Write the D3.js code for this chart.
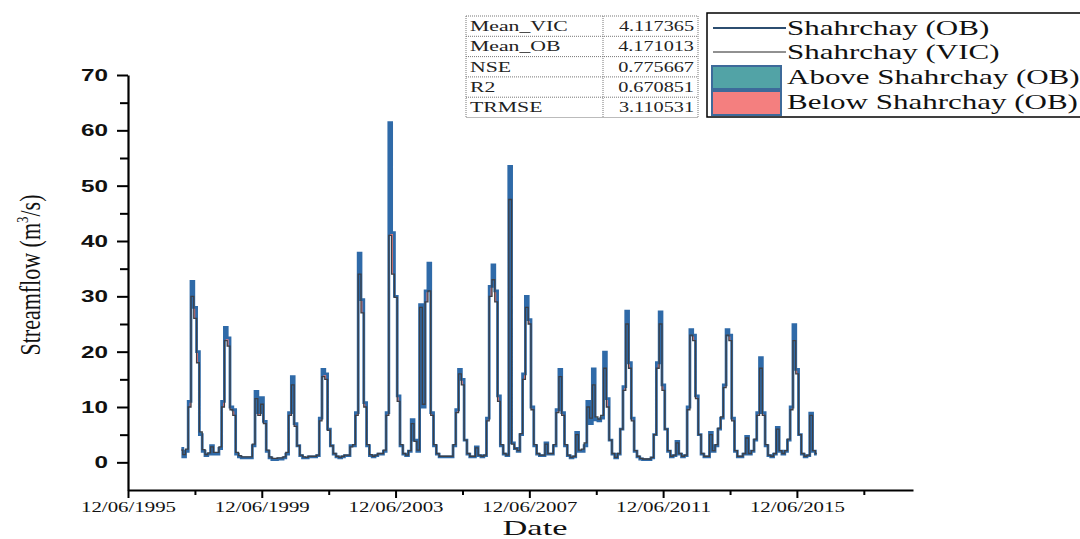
<!DOCTYPE html>
<html><head><meta charset="utf-8">
<script src="https://cdn.jsdelivr.net/npm/d3@7"></script>
<style>body{margin:0;background:#fff}svg{display:block}</style>
</head><body><svg id="c" width="1080" height="539"></svg>
<script>
// ---- data (monthly, Jan 1997 .. Jan 2016) ----
const startYear = 1997;
const obFlow = [
 2.5,1.0,2.0,11,32.7,28,20,5,2,1.2,1.5,3.0,
 1.5,1.5,2.5,11,24.4,22.5,10,9.5,1.5,1.0,0.8,0.8,
 0.8,0.8,3,12.8,9,11.7,7.4,2,0.8,0.5,0.5,0.6,
 0.6,0.8,1.5,9,15.5,7,3,1.2,0.8,0.8,1.0,1.0,
 1.0,1.2,8,16.8,16,6,3,1.5,1.0,0.8,1.0,1.2,
 1.2,3,3,9,37.8,29.4,10.8,3,1.2,1.0,1.2,1.5,
 1.5,2,9,61.4,41.5,30,12,3,1.5,1.2,2,7.7,
 4,2,28.5,10,31,36,9,3,1.5,1.0,1.0,1.0,
 1.0,1.0,3,9.5,16.8,15,4,1.5,1.0,1.0,2.8,1.2,
 1.0,1.2,8,31.8,35.7,31,12,3,1.5,1.2,53.5,3.5,
 2.5,2,5,16,30,25.8,10,3,1.5,1.2,1.2,3.5,
 1.5,1.5,3,9.5,16.8,9,3,1.2,0.8,1.0,5.4,2,
 2,3,11,7,16.9,7.7,7.5,8,19.9,11.5,4,1.5,
 0.8,1.5,6,13.7,27.3,18,8,2,1,0.6,0.5,0.5,
 0.5,0.8,5,18,27.2,14,6,2,1,1.2,3.8,1.5,
 1,1.2,10,24,23,12,5,1.5,1,1,5.4,2,
 3,6,8,14,24,23,8,2,1,1,1.5,4.7,
 1.5,2,4,9,18.9,9,3,1.2,1,1.5,6.3,2,
 1.5,2,4,10,24.9,16.8,5,1.5,1,1.2,8.9,2,
 1.5
];
const vicFlow = [
 2.2,1.4,2.4,10,30,26,18,5.5,2.3,1.4,1.7,2.8,
 1.8,1.8,2.8,10,22,21,9.5,8.5,1.8,1.2,1.0,1.0,
 1.0,1.0,3.3,11.5,8.5,10.5,7,2.2,1.0,0.7,0.7,0.8,
 0.8,1.0,1.8,8.5,14,6.5,3,1.3,1.0,0.9,1.1,1.1,
 1.1,1.3,7.5,15.5,15,5.8,3,1.6,1.1,0.9,1.1,1.3,
 1.3,2.8,3.2,8.5,34,27,10,3.2,1.4,1.1,1.3,1.6,
 1.6,2.2,8.5,41,34,29.8,11,3.2,1.6,1.3,2.1,7,
 3.8,2.2,28,10.5,29,31,8.5,3.2,1.6,1.1,1.1,1.1,
 1.1,1.1,3.2,9,16,14,4,1.6,1.1,1.1,2.6,1.3,
 1.1,1.3,7.5,30,33,29,11,3.2,1.6,1.3,47.5,3.3,
 2.5,2.1,5.2,15,28,25,9.5,3.2,1.6,1.3,1.3,3.3,
 1.6,1.6,3.2,9,15.5,8.5,3.2,1.3,0.9,1.1,5,2.2,
 2.4,3.5,10,8,14,8.2,7.8,8.5,17,10,4,1.6,
 0.9,1.6,6,13,25,17,7.5,2.1,1.1,0.7,0.6,0.6,
 0.6,0.9,5,17,25,13,6,2.1,1.1,1.3,3.5,1.6,
 1.1,1.3,9.5,23,22,11.5,5,1.6,1.1,1.1,5,2.1,
 3.2,6.2,8.2,13.5,23,22,7.5,2.1,1.1,1.1,1.6,4.4,
 1.6,2.1,4.2,8.5,17,8.5,3.2,1.3,1.1,1.6,6,2.1,
 1.6,2.1,4.2,9.5,22,16,5,1.6,1.1,1.3,8.5,2.1,
 1.6
];
const yTickValues = [0,10,20,30,40,50,60,70];
const yMinorValues = [5,15,25,35,45,55,65];
const xTickYears = [1995,1999,2003,2007,2011,2015];
const xMinorYears = [1997,2001,2005,2009,2013,2017];
const statNames = ["Mean_VIC","Mean_OB","NSE","R2","TRMSE"];
const statValues = ["4.117365","4.171013","0.775667","0.670851","3.110531"];
const legendLabels = ["Shahrchay (OB)","Shahrchay (VIC)","Above Shahrchay (OB)","Below Shahrchay (OB)"];

// ---- setup ----
const svg = d3.select("#c");
const obColor = "#2f6aa8", vicColor = "#3c3f46", aboveColor = "#52a3a6", belowColor = "#f47f7f";
const serif = "'Liberation Serif','Times New Roman',serif";
const sans = "'Liberation Sans',Arial,sans-serif";

const data = obFlow.map((v,i)=>({d:new Date(startYear+Math.floor(i/12), i%12, 15), ob:v, vic:vicFlow[i]}));

const x = d3.scaleTime().domain([new Date(1995,5,12), new Date(2018,11,1)]).range([128, 913]);
const y = d3.scaleLinear().domain([-5,70]).range([490,75]);

// fills between series
const curve = d3.curveStep;
svg.append("path").datum(data)
  .attr("fill", aboveColor)
  .attr("d", d3.area().curve(curve).x(d=>x(d.d)).y0(d=>y(d.ob)).y1(d=>y(Math.max(d.ob,d.vic))));
svg.append("path").datum(data)
  .attr("fill", belowColor)
  .attr("d", d3.area().curve(curve).x(d=>x(d.d)).y0(d=>y(d.ob)).y1(d=>y(Math.min(d.ob,d.vic))));
// lines
svg.append("path").datum(data)
  .attr("fill","none").attr("stroke",obColor).attr("stroke-width",2.8).attr("stroke-linejoin","miter")
  .attr("d", d3.line().curve(curve).x(d=>x(d.d)).y(d=>y(d.ob)));
svg.append("path").datum(data)
  .attr("fill","none").attr("stroke",vicColor).attr("stroke-width",1.3)
  .attr("d", d3.line().curve(curve).x(d=>x(d.d)).y(d=>y(d.vic)));

// ---- axes ----
function styleAxis(g){
  g.selectAll("path.domain").attr("stroke","#000").attr("stroke-width",2.2);
  g.selectAll(".tick line").attr("stroke","#000").attr("stroke-width",2);
}
const yAxis = svg.append("g").attr("transform","translate(128,0)")
  .call(d3.axisLeft(y).tickValues(yTickValues).tickSize(11).tickSizeOuter(0).tickPadding(9));
styleAxis(yAxis);
yAxis.selectAll(".tick text").attr("font-family",sans).attr("font-weight","bold").attr("font-size",17)
  .attr("fill","#111")
  .attr("textLength", d=> String(d).length*13.5).attr("lengthAdjust","spacingAndGlyphs");
const yMinor = svg.append("g").attr("transform","translate(128,0)")
  .call(d3.axisLeft(y).tickValues(yMinorValues).tickSize(8).tickFormat(""));
yMinor.select("path.domain").remove();
yMinor.selectAll(".tick line").attr("stroke","#000").attr("stroke-width",2);

const fmt = d3.timeFormat("%d/%m/%Y");
const xAxis = svg.append("g").attr("transform","translate(0,490)")
  .call(d3.axisBottom(x).tickValues(xTickYears.map(yr=>new Date(yr,5,12))).tickFormat(fmt)
    .tickSize(8).tickSizeOuter(0).tickPadding(3));
styleAxis(xAxis);
xAxis.selectAll(".tick text").attr("font-family",serif).attr("font-size",15).attr("fill","#111")
  .attr("textLength",95).attr("lengthAdjust","spacingAndGlyphs");
const xMinor = svg.append("g").attr("transform","translate(0,490)")
  .call(d3.axisBottom(x).tickValues(xMinorYears.map(yr=>new Date(yr,5,12))).tickSize(5).tickFormat(""));
xMinor.select("path.domain").remove();
xMinor.selectAll(".tick line").attr("stroke","#000").attr("stroke-width",2);

// axis titles
svg.append("text").attr("x",535).attr("y",534.5).attr("text-anchor","middle")
  .attr("font-family",serif).attr("font-size",21).attr("fill","#111")
  .attr("textLength",65).attr("lengthAdjust","spacingAndGlyphs").text("Date");
const yt = svg.append("text").attr("transform","translate(40,275) scale(1.3,1) rotate(-90)")
  .attr("text-anchor","middle").attr("font-family",serif).attr("font-size",22).attr("fill","#111");
yt.append("tspan").text("Streamflow (m");
yt.append("tspan").attr("font-size",13).attr("dy",-9).text("3");
yt.append("tspan").attr("dy",9).text("/s)");

// ---- stats table ----
const tX0 = 466, tX1 = 603, tX2 = 698, tY0 = 16, rowH = 20.3;
const table = svg.append("g");
table.append("rect").attr("x",tX0).attr("y",tY0).attr("width",tX2-tX0).attr("height",rowH*statNames.length)
  .attr("fill","#fff").attr("stroke","#777").attr("stroke-width",1).attr("stroke-dasharray","1,1");
statNames.forEach((n,i)=>{
  if(i>0) table.append("line").attr("x1",tX0).attr("x2",tX2).attr("y1",tY0+i*rowH).attr("y2",tY0+i*rowH)
    .attr("stroke","#777").attr("stroke-dasharray","1,1");
  table.append("text").attr("transform",`translate(${tX0+4},${tY0+i*rowH+15}) scale(1.45,1)`)
    .attr("font-family",serif).attr("font-size",15).attr("fill","#222").text(n);
  table.append("text").attr("transform",`translate(${tX2-4},${tY0+i*rowH+15}) scale(1.35,1)`)
    .attr("text-anchor","end").attr("font-family",serif).attr("font-size",15).attr("fill","#222").text(statValues[i]);
});
table.append("line").attr("x1",tX1).attr("x2",tX1).attr("y1",tY0).attr("y2",tY0+rowH*statNames.length)
  .attr("stroke","#777").attr("stroke-dasharray","1,1");

// ---- legend ----
const lg = svg.append("g");
lg.append("rect").attr("x",707).attr("y",13).attr("width",380).attr("height",104)
  .attr("fill","#fff").attr("stroke","#000").attr("stroke-width",1.5);
const lyRows = [28, 52, 77, 102];
lg.append("line").attr("x1",713).attr("x2",786).attr("y1",lyRows[0]).attr("y2",lyRows[0])
  .attr("stroke","#2c4d70").attr("stroke-width",2);
lg.append("line").attr("x1",713).attr("x2",786).attr("y1",lyRows[1]).attr("y2",lyRows[1])
  .attr("stroke","#222").attr("stroke-width",1);
lg.append("rect").attr("x",712).attr("y",66).attr("width",69).attr("height",23)
  .attr("fill",aboveColor).attr("stroke","#3d6a9a").attr("stroke-width",2);
lg.append("rect").attr("x",712).attr("y",91).attr("width",69).attr("height",24)
  .attr("fill",belowColor).attr("stroke","#3d6a9a").attr("stroke-width",2);
legendLabels.forEach((t,i)=>{
  lg.append("text").attr("transform",`translate(787,${lyRows[i]+7}) scale(1.55,1)`)
    .attr("font-family",serif).attr("font-size",20).attr("fill","#111").text(t);
});
</script></body></html>
